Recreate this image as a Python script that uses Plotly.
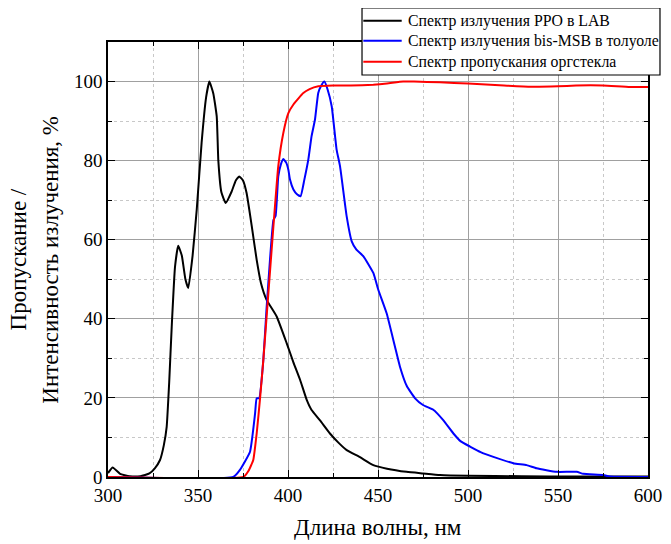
import plotly.graph_objects as go

# PPO in LAB emission
ppo_x = [300, 302.6, 306.7, 312, 318, 323, 326, 328.9, 331, 332.6, 334, 335.4, 337.2, 339, 341, 343, 344.6, 347, 349.3, 352, 354.5, 356.3, 358.5, 360.4, 361.3, 363, 365.4, 368.7, 371, 372.9, 375, 377, 380, 382.6, 385, 388.1, 393.7, 399.3, 403, 406.7, 410.4, 413, 417.8, 423.3, 428, 432.6, 440, 447.4, 455, 465.9, 475, 484.4, 500, 530, 560, 600]
ppo_y = [1.0, 2.4, 0.8, 0.2, 0.2, 0.9, 2.2, 4.3, 8, 12.7, 24, 38, 53, 58.5, 56, 50, 47.8, 56, 67.6, 84.5, 96, 100, 97, 91.2, 80, 72, 69.3, 72.2, 75, 76, 75, 71.8, 63, 54.9, 49, 44.8, 40.6, 33.8, 29, 24.6, 19.5, 17, 14.3, 11, 8.7, 6.8, 5, 3, 2.1, 1.3, 0.9, 0.5, 0.3, 0.2, 0.1, 0.1]

# bis-MSB in toluene emission
msb_x = [300, 369.6, 373.3, 378.9, 381.7, 382.6, 384, 386.3, 388, 390, 391.9, 393.1, 394.6, 396, 397.4, 399, 400.2, 401.1, 403, 405, 407, 409, 411.3, 413.1, 415, 416.8, 418.5, 420.2, 422, 424.3, 427, 428.9, 432.6, 435.4, 438, 441.9, 447.4, 450.2, 454.8, 459.4, 462.2, 466, 470.6, 475, 480.7, 486, 491.9, 496, 501.1, 507, 514.1, 525.2, 532.6, 538.1, 549.3, 560.4, 564, 575.2, 578.9, 600]
msb_y = [0, 0, 1.8, 6.4, 16, 19.9, 19.9, 29.6, 42, 55, 65, 66, 76, 79, 80.4, 79.5, 77.7, 75.2, 72.7, 71.5, 71, 75, 80.3, 86.2, 90.4, 97.1, 99, 100, 98, 93.7, 82.8, 78.6, 65.9, 59.6, 57.5, 55.8, 51.6, 47.3, 41.4, 33, 27.9, 23, 19.9, 18.2, 17, 14.5, 11, 9, 7.7, 6.3, 5.1, 3.5, 3, 2.2, 1.3, 1.3, 0.8, 0.5, 0.1, 0]

# plexiglass transmission
pmma_x = [300, 375.2, 378, 380.7, 382.6, 384.5, 386.3, 389.1, 391.9, 394.6, 397.4, 400.2, 403, 408.5, 412, 416.8, 425, 435, 447.4, 455, 464, 470, 484.4, 500, 520, 535, 550, 560, 575, 590, 600]
pmma_y = [0, 0, 1.5, 4.3, 11, 20, 29.6, 46.5, 63.4, 78.6, 87, 92, 94.2, 97.1, 98.1, 98.8, 99, 99, 99.2, 99.5, 100, 100, 99.8, 99.5, 99, 98.7, 98.8, 99, 99, 98.6, 98.6]

names = ["Спектр излучения PPO в LAB",
         "Спектр излучения bis-MSB в толуоле",
         "Спектр пропускания оргстекла"]
colors = ["black", "#0000ff", "#ff0000"]

x_ticks = [300, 350, 400, 450, 500, 550, 600]
y_ticks = [0, 20, 40, 60, 80, 100]

fig = go.Figure()
for xs, ys, n, c in zip([ppo_x, msb_x, pmma_x], [ppo_y, msb_y, pmma_y], names, colors):
    fig.add_trace(go.Scatter(x=xs, y=ys, mode="lines", name=n, showlegend=False,
                             line=dict(color=c, width=2, shape="spline", smoothing=0.4)))

font = "Liberation Serif"
axis_common = dict(
    showline=True, linecolor="black", linewidth=1.5, mirror="ticks",
    ticks="inside", ticklen=7, tickwidth=1.2, tickcolor="black",
    showgrid=True, gridcolor="#a0a0a0", gridwidth=1,
    zeroline=False, automargin=False,
    tickfont=dict(family=font, size=19, color="black"),
)
fig.update_xaxes(
    range=[300, 600], tickvals=x_ticks,
    minor=dict(dtick=25, tick0=300, ticks="inside", ticklen=4, tickcolor="black",
               showgrid=True, gridcolor="#c8c8c8", griddash="dot"),
    **axis_common)
fig.update_yaxes(
    range=[0, 110], tickvals=y_ticks,
    minor=dict(dtick=10, tick0=0, ticks="inside", ticklen=4, tickcolor="black",
               showgrid=True, gridcolor="#c8c8c8", griddash="dot"),
    **axis_common)

title_font = dict(family=font, size=23, color="black")
fig.add_annotation(text="Длина волны, нм", xref="paper", yref="paper",
                   x=0.5, y=-0.117, xanchor="center", yanchor="middle",
                   showarrow=False, font=title_font)
fig.add_annotation(text="Пропускание /", xref="paper", yref="paper",
                   x=-0.165, y=0.5, xanchor="center", yanchor="middle",
                   textangle=-90, showarrow=False, font=title_font)
fig.add_annotation(text="Интенсивность излучения, %", xref="paper", yref="paper",
                   x=-0.107, y=0.5, xanchor="center", yanchor="middle",
                   textangle=-90, showarrow=False, font=title_font)

# legend box drawn in paper coordinates
fig.add_shape(type="rect", xref="paper", yref="paper",
              x0=0.4704, x1=1.0222, y0=0.9241, y1=1.0782,
              fillcolor="white", line=dict(color="black", width=1.2), layer="above")
leg_rows = [1.049, 1.003, 0.9547]
for n, c, yy in zip(names, colors, leg_rows):
    fig.add_shape(type="line", xref="paper", yref="paper",
                  x0=0.4728, x1=0.5439, y0=yy, y1=yy,
                  line=dict(color=c, width=2), layer="above")
    fig.add_annotation(text=n, xref="paper", yref="paper", x=0.5519, y=yy,
                       xanchor="left", yanchor="middle", showarrow=False,
                       font=dict(family=font, size=15.8, color="black"))

fig.update_layout(
    width=671, height=544,
    margin=dict(l=100, r=31, t=34, b=75, autoexpand=False),
    paper_bgcolor="white", plot_bgcolor="white",
    font=dict(family=font, color="black"),
    showlegend=False,
)
fig.write_html("out.html")
